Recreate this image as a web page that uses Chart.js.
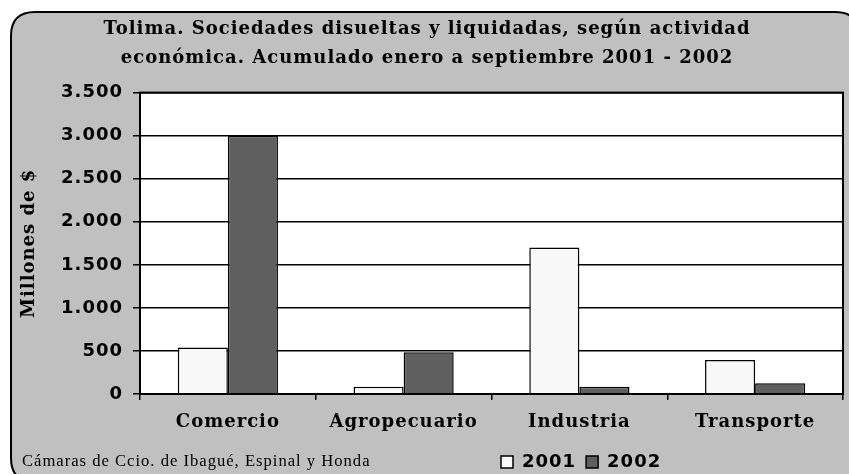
<!DOCTYPE html>
<html><head><meta charset="utf-8">
<script src="https://cdn.jsdelivr.net/npm/chart.js@4/dist/chart.umd.min.js"></script>
<style>html,body{margin:0;padding:0;background:#fff;}#wrap{width:849px;height:474px;}</style>
</head><body><div id="wrap"><canvas id="c" width="849" height="474"></canvas></div>
<script>
const categories = ['Comercio', 'Agropecuario', 'Industria', 'Transporte'];
const seriesNames = ['2001', '2002'];
const values2001 = [540, 85, 1700, 395];
const values2002 = [3000, 485, 85, 125];
const yTickLabels = ['0', '500', '1.000', '1.500', '2.000', '2.500', '3.000', '3.500'];
const titleLines = ['Tolima. Sociedades disueltas y liquidadas, según actividad', 'económica. Acumulado enero a septiembre 2001 - 2002'];
const yAxisTitle = 'Millones de $';
const sourceText = 'Cámaras de Ccio. de Ibagué, Espinal y Honda';

const spacing = {
  id: 'spacing',
  beforeUpdate(c) { c.ctx.letterSpacing = '1px'; },
  beforeLayout(c) { c.ctx.letterSpacing = '1px'; },
  beforeDraw(c) { c.ctx.letterSpacing = '1px'; }
};

function roundRect(ctx, x, y, w, h, r) {
  ctx.beginPath();
  ctx.moveTo(x + r, y);
  ctx.lineTo(x + w - r, y);
  ctx.quadraticCurveTo(x + w, y, x + w, y + r);
  ctx.lineTo(x + w, y + h - r);
  ctx.quadraticCurveTo(x + w, y + h, x + w - r, y + h);
  ctx.lineTo(x + r, y + h);
  ctx.quadraticCurveTo(x, y + h, x, y + h - r);
  ctx.lineTo(x, y + r);
  ctx.quadraticCurveTo(x, y, x + r, y);
  ctx.closePath();
}

const frame = {
  id: 'frame',
  afterLayout(c) {
    const L = c.legend;
    if (L) {
      const w = L.right - L.left;
      L.left = 491; L.right = 491 + w;
      L.top += 7; L.bottom += 7;
    }
  },
  beforeDraw(c) {
    const ctx = c.ctx, a = c.chartArea;
    ctx.save();
    ctx.fillStyle = '#ffffff';
    ctx.fillRect(0, 0, c.width, c.height);
    roundRect(ctx, 11, 12, 848, 470, 24);
    ctx.fillStyle = '#c0c0c0';
    ctx.fill();
    ctx.lineWidth = 2;
    ctx.strokeStyle = '#000';
    ctx.stroke();
    ctx.fillStyle = '#ffffff';
    ctx.fillRect(a.left, a.top, a.right - a.left, a.bottom - a.top);
    ctx.restore();
  },
  afterDatasetsDraw(c) {
    const ctx = c.ctx, a = c.chartArea;
    ctx.save();
    ctx.lineWidth = 2;
    ctx.strokeStyle = '#000';
    ctx.strokeRect(a.left, a.top, a.right - a.left, a.bottom - a.top);
    ctx.restore();
  },
  afterDraw(c) {
    const ctx = c.ctx;
    ctx.save();
    ctx.letterSpacing = '1px';
    ctx.fillStyle = '#000';
    ctx.font = '16.6px "Liberation Serif"';
    ctx.textAlign = 'left';
    ctx.textBaseline = 'middle';
    ctx.fillText(sourceText, 22, 462);
    ctx.restore();
  }
};

new Chart(document.getElementById('c'), {
  type: 'bar',
  data: {
    labels: categories,
    datasets: [
      { label: seriesNames[0], data: values2001, backgroundColor: '#f8f8f8', borderColor: '#000', borderWidth: 1.5 },
      { label: seriesNames[1], data: values2002, backgroundColor: '#5f5f5f', borderColor: '#000', borderWidth: 1.5 }
    ]
  },
  options: {
    responsive: false,
    animation: false,
    devicePixelRatio: 1,
    layout: { padding: { top: 13, left: 11, right: 6, bottom: 0 } },
    datasets: { bar: { categoryPercentage: 0.57, barPercentage: 1.0 } },
    plugins: {
      title: {
        display: true,
        text: titleLines,
        color: '#000',
        font: { family: '"DejaVu Serif"', size: 18, weight: 'bold', lineHeight: 1.6 },
        padding: { top: 2, bottom: 20 }
      },
      legend: {
        display: true,
        position: 'bottom',
        align: 'start',
        labels: {
          color: '#000',
          boxWidth: 12, boxHeight: 12,
          padding: 10,
          font: { family: '"DejaVu Sans"', size: 18, weight: 'bold' }
        }
      },
      tooltip: { enabled: false }
    },
    scales: {
      x: {
        offset: true,
        grid: { display: true, drawOnChartArea: false, drawTicks: true, tickLength: 6, color: '#000', lineWidth: 1.5, offset: true },
        border: { display: true, color: '#000', width: 2 },
        ticks: { color: '#000', padding: 12, maxRotation: 0, autoSkip: false,
          font: { family: '"DejaVu Serif"', size: 18, weight: 'bold' } },
        afterFit(s) { s.height = 42; }
      },
      y: {
        min: 0, max: 3500,
        grid: { color: '#000', lineWidth: 1.5, tickLength: 7, drawTicks: true },
        border: { display: true, color: '#000', width: 2 },
        ticks: { stepSize: 500, color: '#000', padding: 10,
          font: { family: '"DejaVu Sans"', size: 18, weight: 'bold' },
          callback: (v) => yTickLabels[Math.round(v / 500)] },
        title: { display: true, text: yAxisTitle, color: '#000',
          font: { family: '"DejaVu Serif"', size: 18, weight: 'bold' },
          padding: { top: 8, bottom: 0 } },
        afterFit(s) { s.width = 129; }
      }
    }
  },
  plugins: [spacing, frame]
});
</script>
</body></html>
